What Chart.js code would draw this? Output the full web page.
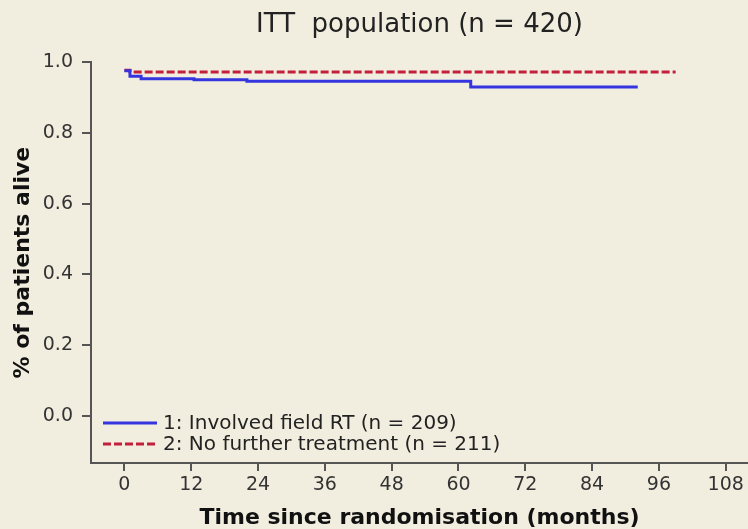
<!DOCTYPE html>
<html><head><meta charset="utf-8">
<script src="https://cdn.jsdelivr.net/npm/chart.js@4/dist/chart.umd.min.js"></script>
<style>html,body{margin:0;padding:0;background:#F2EEDF;}#wrap{width:748px;height:529px;}</style>
</head><body><div id="wrap"><canvas id="c" width="748" height="529"></canvas></div>
<script>
const titleText = "ITT  population (n = 420)";
const xTitle = "Time since randomisation (months)";
const yTitle = "% of patients alive";
const xTickValues = [0, 12, 24, 36, 48, 60, 72, 84, 96, 108];
const yTickValues = [0.0, 0.2, 0.4, 0.6, 0.8, 1.0];
const seriesNames = ["1: Involved field RT (n = 209)", "2: No further treatment (n = 211)"];
const rtTimes = [0, 1, 3, 12.5, 22, 62.2, 92.2];
const rtSurvival = [0.976, 0.960, 0.953, 0.950, 0.946, 0.930, 0.930];
const noTxTimes = [0, 1, 99];
const noTxSurvival = [0.977, 0.972, 0.972];

const colors = ["#3535E0", "#C21F3B"];
const toPts = (t, s) => t.map((v, i) => ({x: v, y: s[i]}));

const legendPlugin = {
  id: 'insideLegend',
  afterDatasetsDraw(chart) {
    const ctx = chart.ctx, a = chart.chartArea;
    ctx.save();
    ctx.font = '20px "DejaVu Sans"';
    ctx.textBaseline = 'middle';
    const rows = [a.bottom - 40, a.bottom - 19];
    seriesNames.forEach((name, i) => {
      ctx.strokeStyle = colors[i];
      ctx.lineWidth = 3;
      ctx.setLineDash(i === 1 ? [8, 3] : []);
      ctx.beginPath();
      ctx.moveTo(a.left + 12, rows[i]);
      ctx.lineTo(a.left + 66, rows[i]);
      ctx.stroke();
      ctx.setLineDash([]);
      ctx.fillStyle = '#222';
      ctx.fillText(name, a.left + 72, rows[i] + 1);
    });
    ctx.restore();
  }
};
const bgPlugin = {
  id: 'bg',
  beforeDraw(chart) {
    const ctx = chart.ctx;
    ctx.save(); ctx.fillStyle = '#F2EEDF'; ctx.fillRect(0, 0, chart.width, chart.height); ctx.restore();
  }
};

new Chart(document.getElementById('c'), {
  type: 'line',
  data: {
    datasets: [
      {label: seriesNames[0], data: toPts(rtTimes, rtSurvival), borderColor: colors[0], borderWidth: 3, stepped: true, pointRadius: 0, fill: false},
      {label: seriesNames[1], data: toPts(noTxTimes, noTxSurvival), borderColor: colors[1], borderWidth: 3, borderDash: [8, 3], stepped: true, pointRadius: 0, fill: false}
    ]
  },
  options: {
    responsive: false,
    animation: false,
    layout: {padding: {left: 0, right: 0, top: 0, bottom: 0}},
    plugins: {
      legend: {display: false},
      tooltip: {enabled: false},
      title: {display: true, fullSize: false, text: titleText, color: '#222', font: {family: 'DejaVu Sans', size: 26, weight: 'normal', lineHeight: 1.2}, padding: {top: 10, bottom: 21}}
    },
    scales: {
      x: {
        type: 'linear', min: -6, max: 112,
        afterBuildTicks: s => { s.ticks = xTickValues.map(v => ({value: v})); },
        afterFit: s => { s.height = 66; },
        ticks: {color: '#333', font: {family: 'DejaVu Sans', size: 19}, padding: 3, maxRotation: 0, autoSkip: false},
        grid: {display: true, drawOnChartArea: false, drawTicks: true, tickLength: 8, color: '#555', lineWidth: 2},
        border: {display: true, color: '#555', width: 2},
        title: {display: true, text: xTitle, color: '#111', font: {family: 'DejaVu Sans', size: 22, weight: 'bold', lineHeight: 1}, padding: {top: 0, bottom: 0}}
      },
      y: {
        type: 'linear', min: -0.134, max: 1.0,
        afterBuildTicks: s => { s.ticks = yTickValues.map(v => ({value: v})); },
        afterFit: s => { s.width = 91; },
        ticks: {color: '#333', font: {family: 'DejaVu Sans', size: 19}, padding: 9, callback: v => v.toFixed(1), autoSkip: false},
        grid: {display: true, drawOnChartArea: false, drawTicks: true, tickLength: 9, color: '#555', lineWidth: 2},
        border: {display: true, color: '#555', width: 2},
        title: {display: true, text: yTitle, color: '#111', font: {family: 'DejaVu Sans', size: 22, weight: 'bold', lineHeight: 1}, padding: {top: 12, bottom: 0}}
      }
    }
  },
  plugins: [bgPlugin, legendPlugin]
});
</script></body></html>
